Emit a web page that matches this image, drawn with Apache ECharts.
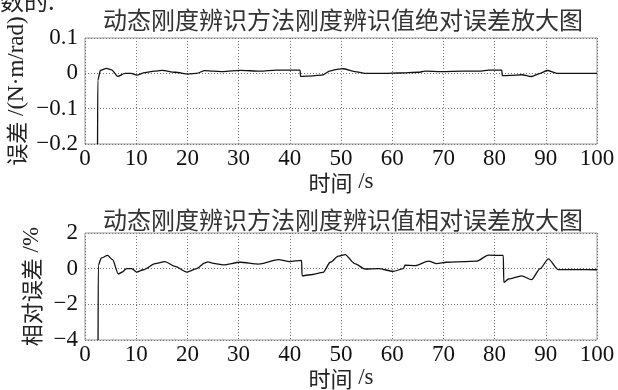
<!DOCTYPE html>
<html><head><meta charset="utf-8">
<script src="https://cdn.jsdelivr.net/npm/echarts@6/dist/echarts.min.js"></script>
<style>html,body{margin:0;padding:0;background:#fff}#c{width:618px;height:390px}</style>
</head><body><div id="c"></div>
<script>
// Absolute error of identified stiffness (N·m/rad)
const absTime = [2.45,2.5,3.0,4.2,5.2,6.4,7.8,9.0,10.1,11.7,13.5,15.0,17.6,20.2,21.8,23.4,25.0,27.0,30.3,34.2,37.4,42.0,42.1,44.6,46.3,47.9,49.5,50.4,52.7,54.7,58.6,61.3,65.1,66.4,69.6,73.8,77.1,78.8,81.4,81.5,83.0,85.3,87.2,88.9,90.3,92.2,95,100];
const absErr = [-0.2,-0.02,0.008,0.014,0.01,-0.0085,0,0,-0.005,0.002,0.006,0.0085,0.003,-0.002,0,0.0077,0.006,0.005,0.0085,0.006,0.009,0.009,-0.0085,-0.007,-0.005,0.007,0.012,0.013,0.005,0,0,0.001,0.003,0.006,0.005,0.006,0.006,0.009,0.009,-0.0065,-0.006,-0.004,-0.009,0,0.008,0,0,0];
// Relative error (%)
const relTime = [2.55,2.6,3.2,4.4,5.4,6.5,7.2,8.1,9.1,10.1,11.4,13.7,15.6,17.6,19.9,21.8,23.4,24.0,25.1,27.0,30.3,33.9,37.8,40.0,42.3,42.4,44.0,46.5,47.9,49.5,50.8,52.7,54.7,57.3,60.2,62.2,62.5,64.5,67.1,68.7,70.6,73.9,76.5,78.8,81.7,81.8,82.7,85.3,87.2,88.9,90.5,92.4,98,100];
const relErr = [-4,0.2,0.6,0.74,0.5,-0.3,-0.2,0,0,-0.19,-0.06,0.28,0.4,0.13,-0.19,0,0.32,0.38,0.3,0.21,0.36,0.26,0.51,0.4,0.47,-0.4,-0.34,-0.21,0.36,0.7,0.79,0.28,-0.02,0,-0.15,0,0.2,0.17,0.42,0.28,0.36,0.4,0.42,0.76,0.74,-0.77,-0.58,-0.4,-0.62,0,0.55,-0.05,-0.05,-0.06];
const xTicks = {min:0, max:100, interval:10};
const absTicks = {min:-0.2, max:0.1, interval:0.1};
const relTicks = {min:-4, max:2, interval:2};
const titles = ['动态刚度辨识方法刚度辨识值绝对误差放大图','动态刚度辨识方法刚度辨识值相对误差放大图'];
const yNames = ['{c|误差} /(N·m/rad)','{c|相对误差} /%'];
const xName = '{c|时间} /s';

const SERIF = 'Liberation Serif';
const CJK = 'Noto Sans CJK SC';
const rich = {c:{fontFamily:CJK, fontSize:22, color:'#222'}};
const fmt = v => String(+v.toFixed(4)).replace('-', '\u2212');
function xAx(i){
  return {gridIndex:i, type:'value', min:xTicks.min, max:xTicks.max, interval:xTicks.interval,
    name:xName, nameLocation:'middle', nameGap:26,
    nameTextStyle:{fontFamily:SERIF, fontSize:23, color:'#222', rich},
    axisLine:{show:false}, axisTick:{show:false},
    axisLabel:{fontFamily:SERIF, fontSize:23, color:'#111', margin:3, formatter:fmt},
    splitLine:{show:true, lineStyle:{type:[1,2], color:'#777', width:1}}};
}
function yAx(i, t, gap){
  return {gridIndex:i, type:'value', min:t.min, max:t.max, interval:t.interval,
    name:yNames[i], nameLocation:'middle', nameGap:gap, nameRotate:90, nameMoveOverlap:false,
    nameTextStyle:{fontFamily:SERIF, fontSize:23, color:'#222', rich},
    axisLine:{show:false}, axisTick:{show:false},
    axisLabel:{fontFamily:SERIF, fontSize:23, color:'#111', margin:7, formatter:fmt},
    splitLine:{show:true, lineStyle:{type:[1,2], color:'#777', width:1}}};
}
const chart = echarts.init(document.getElementById('c'), null, {renderer:'canvas'});
chart.setOption({
  backgroundColor:'#fff',
  animation:false,
  title:[
    {text:titles[0], left:338, top:3, textAlign:'center', textStyle:{fontFamily:CJK, fontSize:24, fontWeight:'normal', color:'#333'}},
    {text:titles[1], left:338, top:203, textAlign:'center', textStyle:{fontFamily:CJK, fontSize:24, fontWeight:'normal', color:'#333'}}
  ],
  graphic:[{type:'text', left:0, top:-11, style:{text:'数的.', fontFamily:CJK, fontSize:24, fill:'#222'}}],
  grid:[
    {left:85, top:38, width:512, height:106, show:true, borderColor:'#999', borderWidth:1, outerBoundsMode:'none', containLabel:false},
    {left:85, top:233, width:512, height:107, show:true, borderColor:'#999', borderWidth:1, outerBoundsMode:'none', containLabel:false}
  ],
  xAxis:[xAx(0), xAx(1)],
  yAxis:[yAx(0, absTicks, 57), yAx(1, relTicks, 42)],
  series:[
    {type:'line', xAxisIndex:0, yAxisIndex:0, showSymbol:false, smooth:0.25, smoothMonotone:'x',
     lineStyle:{color:'#111', width:1.3}, data:absTime.map((t,k)=>[t,absErr[k]])},
    {type:'line', xAxisIndex:1, yAxisIndex:1, showSymbol:false, smooth:0.25, smoothMonotone:'x',
     lineStyle:{color:'#111', width:1.3}, data:relTime.map((t,k)=>[t,relErr[k]])}
  ]
});
</script></body></html>
